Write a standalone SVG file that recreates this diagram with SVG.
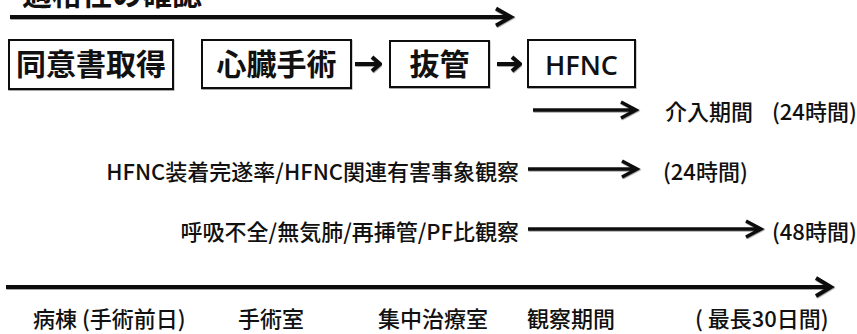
<svg xmlns="http://www.w3.org/2000/svg" width="857" height="334" viewBox="0 0 857 334">
  <style>
    .jp { font-family: "Noto Sans CJK JP", "Noto Sans", sans-serif; font-weight: 700; fill: #111; }
    .box { fill: #fff; stroke: #111; stroke-width: 2; filter: url(#sh); }
    .bt { font-size: 30px; text-anchor: middle; }
    .lt { font-size: 22px; font-weight: 500; }
    .arr { fill: none; stroke: #111; stroke-linecap: butt; stroke-linejoin: miter; filter: url(#sh); }
    .w4 { stroke-width: 4; }
    .w3 { stroke-width: 3.5; }
  </style>
  <defs>
    <filter id="sh" x="-5%" y="-50%" width="110%" height="200%">
      <feDropShadow dx="0.5" dy="1" stdDeviation="0.7" flood-color="#000" flood-opacity="0.35"/>
    </filter>
  </defs>
  <rect width="857" height="334" fill="#fff"/>

  <g id="title">
    <text class="jp" x="22" y="5" font-size="30">適格性の確認</text>
  </g>

  <g id="node-consent">
    <rect class="box" x="9" y="40" width="164" height="49"/>
    <text class="jp bt" x="91" y="75">同意書取得</text>
  </g>
  <g id="node-surgery">
    <rect class="box" x="202" y="40" width="149" height="48"/>
    <text class="jp bt" x="276.5" y="75">心臓手術</text>
  </g>
  <g id="node-extubation">
    <rect class="box" x="390" y="41" width="99" height="46"/>
    <text class="jp bt" x="439.5" y="75">抜管</text>
  </g>
  <g id="node-hfnc">
    <rect class="box" x="528" y="40" width="107" height="47"/>
    <text x="581.5" y="75" font-family="'Open Sans', 'Noto Sans', sans-serif" font-size="27" font-weight="600" fill="#111" text-anchor="middle">HFNC</text>
  </g>

  <g id="label-intervention">
    <text class="jp lt" x="665" y="120">介入期間<tspan x="772">(24時間)</tspan></text>
  </g>
  <g id="label-row2">
    <text class="jp lt" x="519" y="180" text-anchor="end">HFNC装着完遂率/HFNC関連有害事象観察</text>
    <text class="jp lt" x="663" y="180">(24時間)</text>
  </g>
  <g id="label-row3">
    <text class="jp lt" x="519" y="240" text-anchor="end">呼吸不全/無気肺/再挿管/PF比観察</text>
    <text class="jp lt" x="772" y="240">(48時間)</text>
  </g>

  <g id="timeline-labels">
    <text class="jp lt" x="33" y="327">病棟 (手術前日)</text>
    <text class="jp lt" x="238" y="327">手術室</text>
    <text class="jp lt" x="378" y="327">集中治療室</text>
    <text class="jp lt" x="527" y="327">観察期間</text>
    <text class="jp lt" x="695" y="327">( 最長30日間)</text>
  </g>

  <g id="connectors">
    <path class="arr w4" d="M10,17 H510 M496,8.5 L511,17 L496,25.5"/>
    <path class="arr w4" d="M355,64 H379 M372,57 L380,64 L372,71"/>
    <path class="arr w4" d="M497,64 H519 M512,57 L520,64 L512,71"/>
    <path class="arr w3" d="M533,110 H635 M621,102 L636,110 L621,118"/>
    <path class="arr w3" d="M528,169 H636 M622,161 L637,169 L622,177"/>
    <path class="arr w3" d="M528,229 H760 M746,221 L761,229 L746,237"/>
    <path class="arr w4" d="M6,287 H830 M816,278 L831,287 L816,296"/>
  </g>
</svg>
